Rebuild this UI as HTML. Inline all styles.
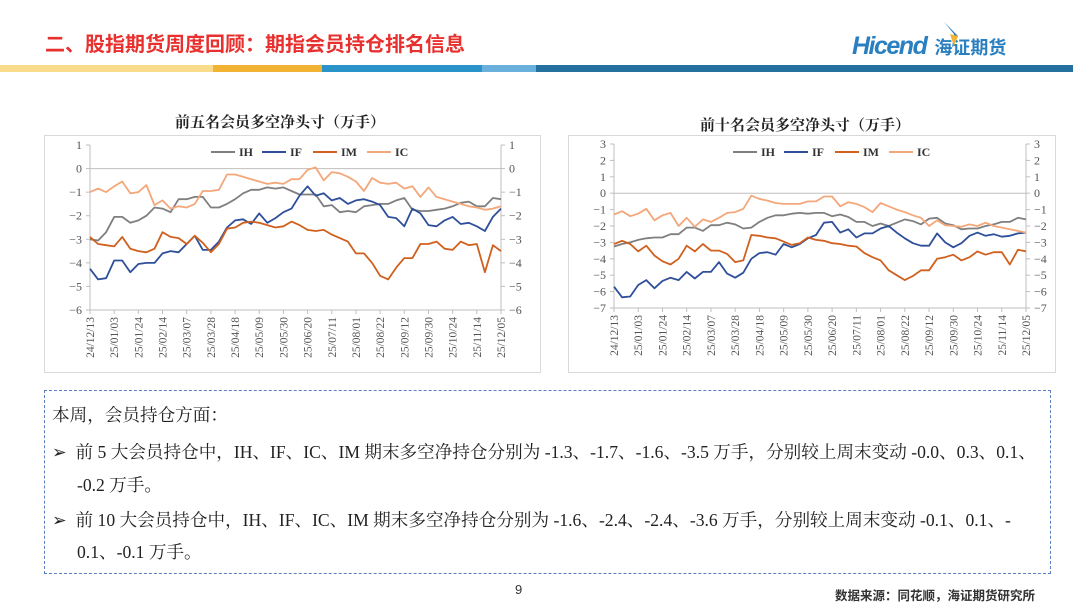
<!DOCTYPE html>
<html><head><meta charset="utf-8"><style>
body{margin:0;width:1080px;height:607px;overflow:hidden;background:#fff;position:relative;font-family:"Liberation Sans","Noto Sans CJK SC",sans-serif}
.abs{position:absolute;white-space:nowrap}
.txt{font-family:"Liberation Serif","Noto Serif CJK SC",serif;font-size:17.6px;color:#222}
</style></head><body>
<div class="abs" style="left:45px;top:28px;font-size:20px;font-weight:bold;color:#e8312f">二、股指期货周度回顾：期指会员持仓排名信息</div>
<div class="abs" style="left:852px;top:32px;height:36px">
 <span style="font-size:25px;font-weight:bold;font-style:italic;color:#2a7fc0;letter-spacing:-1.5px">Hicend</span><span style="font-size:18px;font-weight:bold;color:#2a7fc0;margin-left:8px">海证期货</span>
 <svg style="position:absolute;left:90px;top:-10px" width="20" height="26"><polygon points="2,0 16,14 10,26 12,12" fill="#2a7fc0"/><polygon points="8,12 16,14 12,24" fill="#f2b233"/></svg>
</div>
<div style="position:absolute;top:65px;left:0;height:7px;width:1073px">
 <div class="abs" style="left:0;width:213px;height:7px;background:#f8dc8c"></div>
 <div class="abs" style="left:213px;width:109px;height:7px;background:#f2b233"></div>
 <div class="abs" style="left:322px;width:160px;height:7px;background:#2a93c9"></div>
 <div class="abs" style="left:482px;width:54px;height:7px;background:#6ab0dc"></div>
 <div class="abs" style="left:536px;width:537px;height:7px;background:#24709f"></div>
</div>
<div class="abs" style="left:175px;top:111px;font-size:15px;font-weight:bold;color:#222;font-family:'Liberation Serif','Noto Serif CJK SC',serif">前五名会员多空净头寸（万手）</div>
<div class="abs" style="left:700px;top:114px;font-size:15px;font-weight:bold;color:#222;font-family:'Liberation Serif','Noto Serif CJK SC',serif">前十名会员多空净头寸（万手）</div>
<svg id="c1" style="position:absolute;left:44px;top:135px" width="497" height="238"></svg>
<svg id="c2" style="position:absolute;left:568px;top:135px" width="488" height="238"></svg>
<div style="position:absolute;left:44px;top:390px;width:1005px;height:182px;border:1.5px dashed #5b7fc0"></div>
<div class="abs txt" style="left:52px;top:402px">本周，会员持仓方面：</div>
<div class="abs txt" style="left:52px;top:439px">➢&nbsp; 前 5 大会员持仓中，IH、IF、IC、IM 期末多空净持仓分别为 -1.3、-1.7、-1.6、-3.5 万手，分别较上周末变动 -0.0、0.3、0.1、</div>
<div class="abs txt" style="left:77px;top:472px">-0.2 万手。</div>
<div class="abs txt" style="left:52px;top:507px">➢&nbsp; 前 10 大会员持仓中，IH、IF、IC、IM 期末多空净持仓分别为 -1.6、-2.4、-2.4、-3.6 万手，分别较上周末变动 -0.1、0.1、-</div>
<div class="abs txt" style="left:77px;top:539px">0.1、-0.1 万手。</div>
<div class="abs" style="left:515px;top:582px;font-size:13px;color:#333">9</div>
<div class="abs" style="left:835px;top:585px;font-size:12.5px;font-weight:bold;color:#333">数据来源：同花顺，海证期货研究所</div>
<script>
const dates=["24/12/13","25/01/03","25/01/24","25/02/14","25/03/07","25/03/28","25/04/18","25/05/09","25/05/30","25/06/20","25/07/11","25/08/01","25/08/22","25/09/12","25/09/30","25/10/24","25/11/14","25/12/05"];
const series=["IH","IF","IM","IC"];
const colors=["#7f7f7f","#2f4f9a","#d0601e","#f3a77a"];
const top5IH=[-3.0,-3.05,-2.7,-2.05,-2.05,-2.3,-2.2,-2.0,-1.65,-1.7,-1.85,-1.3,-1.3,-1.2,-1.2,-1.65,-1.65,-1.5,-1.3,-1.05,-0.9,-0.9,-0.8,-0.85,-0.8,-0.95,-1.1,-1.1,-1.1,-1.6,-1.55,-1.85,-1.8,-1.85,-1.6,-1.55,-1.5,-1.5,-1.35,-1.25,-1.75,-1.8,-1.8,-1.75,-1.7,-1.6,-1.45,-1.4,-1.6,-1.6,-1.25,-1.3];
const top5IF=[-4.25,-4.7,-4.65,-3.9,-3.9,-4.4,-4.05,-4.0,-4.0,-3.6,-3.5,-3.55,-3.2,-2.85,-3.45,-3.45,-3.1,-2.5,-2.2,-2.15,-2.35,-1.9,-2.3,-2.1,-1.85,-1.7,-1.15,-0.75,-1.15,-1.05,-1.35,-1.25,-1.5,-1.35,-1.3,-1.4,-1.55,-2.05,-2.1,-2.45,-1.7,-1.9,-2.4,-2.45,-2.2,-2.05,-2.35,-2.3,-2.45,-2.65,-2.05,-1.7];
const top5IM=[-2.9,-3.2,-3.25,-3.3,-2.9,-3.4,-3.5,-3.55,-3.4,-2.7,-2.9,-2.95,-3.2,-2.85,-3.15,-3.55,-3.2,-2.55,-2.5,-2.3,-2.25,-2.3,-2.4,-2.5,-2.45,-2.25,-2.4,-2.6,-2.65,-2.6,-2.8,-2.95,-3.1,-3.6,-3.6,-4.0,-4.55,-4.7,-4.2,-3.8,-3.8,-3.2,-3.2,-3.1,-3.4,-3.45,-3.1,-3.25,-3.2,-4.4,-3.25,-3.5];
const top5IC=[-1.0,-0.85,-1.0,-0.75,-0.55,-1.05,-1.0,-0.7,-1.55,-1.35,-1.7,-1.6,-1.65,-1.5,-0.95,-0.95,-0.9,-0.25,-0.25,-0.35,-0.45,-0.55,-0.65,-0.6,-0.65,-0.45,-0.45,-0.05,0.05,-0.5,-0.15,-0.2,-0.35,-0.55,-0.95,-0.4,-0.6,-0.65,-0.6,-0.85,-0.75,-1.2,-0.8,-1.2,-1.3,-1.4,-1.5,-1.6,-1.65,-1.75,-1.7,-1.6];
const top10IH=[-3.25,-3.1,-3.0,-2.85,-2.75,-2.7,-2.7,-2.5,-2.5,-2.1,-2.1,-2.3,-1.95,-1.95,-1.8,-1.9,-2.15,-2.1,-1.75,-1.5,-1.35,-1.35,-1.25,-1.2,-1.25,-1.2,-1.2,-1.4,-1.3,-1.45,-1.75,-1.75,-2.0,-1.85,-2.0,-1.8,-1.6,-1.7,-1.9,-1.55,-1.5,-1.85,-1.95,-2.2,-2.15,-2.15,-2.0,-1.9,-1.75,-1.75,-1.5,-1.6];
const top10IF=[-5.7,-6.35,-6.3,-5.6,-5.3,-5.8,-5.35,-5.15,-5.3,-4.8,-5.2,-4.8,-4.8,-4.2,-4.9,-5.15,-4.85,-4.0,-3.65,-3.6,-3.75,-3.1,-3.3,-3.1,-2.75,-2.55,-1.8,-1.75,-2.4,-2.2,-2.7,-2.45,-2.45,-2.15,-2.0,-2.4,-2.75,-3.05,-3.2,-3.2,-2.45,-3.0,-3.3,-3.05,-2.6,-2.4,-2.6,-2.5,-2.65,-2.6,-2.45,-2.4];
const top10IM=[-3.1,-2.9,-3.1,-3.55,-3.2,-3.8,-4.15,-4.35,-4.0,-3.2,-3.55,-3.1,-3.5,-3.5,-3.7,-4.2,-4.1,-2.55,-2.6,-2.7,-2.75,-2.95,-3.15,-3.05,-2.7,-2.85,-2.9,-3.05,-3.1,-3.2,-3.25,-3.65,-3.9,-4.1,-4.7,-5.0,-5.3,-5.05,-4.7,-4.7,-4.0,-3.9,-3.75,-4.1,-3.9,-3.55,-3.75,-3.6,-3.6,-4.35,-3.45,-3.55];
const top10IC=[-1.3,-1.1,-1.4,-1.25,-0.95,-1.65,-1.35,-1.2,-2.0,-1.5,-2.05,-1.6,-1.75,-1.5,-1.2,-1.15,-0.95,-0.15,-0.35,-0.45,-0.6,-0.65,-0.65,-0.65,-0.5,-0.5,-0.2,-0.2,-0.8,-0.55,-0.65,-0.85,-1.15,-0.6,-0.8,-1.0,-1.15,-1.35,-1.5,-2.0,-1.65,-1.95,-2.0,-2.05,-1.9,-2.0,-1.8,-2.0,-2.1,-2.2,-2.3,-2.4];
const top5Ticks=[1,0,-1,-2,-3,-4,-5,-6];
const top10Ticks=[3,2,1,0,-1,-2,-3,-4,-5,-6,-7];

const NS="http://www.w3.org/2000/svg";
function mk(svg,tag,attrs){const e=document.createElementNS(NS,tag);for(const k in attrs)e.setAttribute(k,attrs[k]);svg.appendChild(e);return e;}
function draw(svg,W,H,L,R,T,B,ticks,data,legendX){
  mk(svg,"rect",{x:0.5,y:0.5,width:W-1,height:H-1,fill:"#fff",stroke:"#d9d9d9"});
  const ymax=ticks[0],ymin=ticks[ticks.length-1];
  const y=v=>T+(ymax-v)/(ymax-ymin)*(B-T);
  const n=data[0].length;
  const x=i=>L+i*(R-L)/(n-1);
  const ff="'Liberation Serif','Noto Serif CJK SC',serif";
  let a=mk(svg,"line",{x1:L,y1:T,x2:L,y2:B,stroke:"#bfbfbf"});
  
  a=mk(svg,"line",{x1:R,y1:T,x2:R,y2:B,stroke:"#bfbfbf"});
  
  a=mk(svg,"line",{x1:L,y1:y(0),x2:R,y2:y(0),stroke:"#bfbfbf"});
  
  a=mk(svg,"line",{x1:L,y1:B,x2:R,y2:B,stroke:"#bfbfbf"});
  
  ticks.forEach(t=>{
    const yy=y(t);
    mk(svg,"line",{x1:L-4,y1:yy,x2:L,y2:yy,stroke:"#bfbfbf"});
    mk(svg,"line",{x1:R,y1:yy,x2:R+4,y2:yy,stroke:"#bfbfbf"});
    let tl=mk(svg,"text",{x:L-8,y:yy+4,"text-anchor":"end","font-size":12,fill:"#555","font-family":ff});
    tl.textContent=(t<0?"−"+(-t):t);
    
    let tr=mk(svg,"text",{x:R+8,y:yy+4,"text-anchor":"start","font-size":12,fill:"#555","font-family":ff});
    tr.textContent=(t<0?"−"+(-t):t);
    
  });
  dates.forEach((d,k)=>{
    const xx=x(k*3);
    mk(svg,"line",{x1:xx,y1:B,x2:xx,y2:B+4,stroke:"#bfbfbf"});
    const t=mk(svg,"text",{x:0,y:0,transform:`translate(${xx+4},${B+7}) rotate(-90)`,"text-anchor":"end","font-size":11.5,fill:"#555","font-family":ff});
    t.textContent=d;
    
  });
  data.forEach((arr,s)=>{
    const p=mk(svg,"polyline",{points:arr.map((v,i)=>x(i).toFixed(1)+","+y(v).toFixed(1)).join(" "),fill:"none",stroke:colors[s],"stroke-width":1.8,"stroke-linejoin":"round"});
    
    
  });
  let lx=legendX;
  series.forEach((s,i)=>{
    const g=mk(svg,"g",{});
    
    
    mk(g,"line",{x1:lx,y1:17,x2:lx+24,y2:17,stroke:colors[i],"stroke-width":2});
    const t=mk(g,"text",{x:lx+28,y:21,"font-size":12,"font-weight":"bold",fill:"#333","font-family":ff});
    t.textContent=s;
    lx+=28+(s==="IM"?22:19)+4;
  });
}
draw(document.getElementById("c1"),497,238,46,457,10,175,top5Ticks,[top5IH,top5IF,top5IM,top5IC],167);
draw(document.getElementById("c2"),488,238,46,458,9,173,top10Ticks,[top10IH,top10IF,top10IM,top10IC],165);
</script>
</body></html>
